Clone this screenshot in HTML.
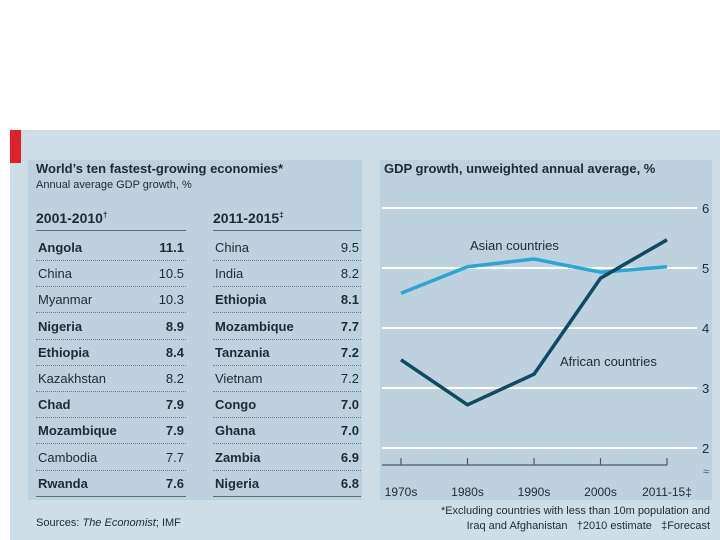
<!DOCTYPE html>
<html><head><meta charset="utf-8"><style>
body{margin:0;width:720px;height:540px;background:#fff;position:relative;overflow:hidden;font-family:"Liberation Sans",sans-serif;color:#1d2b33}
.abs{position:absolute}
.row{position:absolute;height:26px;font-size:13px;line-height:26px;border-bottom:1px dotted #6a7f8a;box-sizing:border-box}
.row .n{position:absolute;left:2px}
.row .v{position:absolute;right:2px}
.b{font-weight:bold}
</style></head><body>
<div class="abs" style="left:10px;top:130px;width:710px;height:410px;background:#cfdee6"></div>
<div class="abs" style="left:10px;top:130px;width:11px;height:33px;background:#e0202a"></div>
<div class="abs" style="left:28px;top:160px;width:334px;height:340px;background:#bdd2de"></div>
<div class="abs" style="left:380px;top:160px;width:332px;height:340px;background:#bdd2de"></div>
<div class="abs b" style="left:36px;top:161px;font-size:13px">World’s ten fastest-growing economies*</div>
<div class="abs" style="left:36px;top:179px;font-size:11px">Annual average GDP growth, %</div>
<div class="abs b" style="left:36px;top:210px;width:150px;font-size:14px;border-bottom:1px solid #5a6e78;padding-bottom:4px">2001-2010<sup style="font-size:8px">†</sup></div>
<div class="abs b" style="left:213px;top:210px;width:148px;font-size:14px;border-bottom:1px solid #5a6e78;padding-bottom:4px">2011-2015<sup style="font-size:8px">‡</sup></div>
<div id="tbl"></div>
<div class="abs" style="left:36px;top:517px;font-size:11px">Sources: <i>The Economist</i>; IMF</div>
<div class="abs b" style="left:384px;top:161px;font-size:13px">GDP growth, unweighted annual average, %</div>
<svg class="abs" style="left:0;top:0" width="720" height="540" id="chart"></svg>
<div class="abs" style="right:10px;top:504px;font-size:11px;text-align:right;line-height:15px">*Excluding countries with less than 10m population and<br>Iraq and Afghanistan &nbsp; †2010 estimate &nbsp; ‡Forecast</div>
<script>
const leftNames=["Angola","China","Myanmar","Nigeria","Ethiopia","Kazakhstan","Chad","Mozambique","Cambodia","Rwanda"];
const leftVals=["11.1","10.5","10.3","8.9","8.4","8.2","7.9","7.9","7.7","7.6"];
const leftBold=[1,0,0,1,1,0,1,1,0,1];
const rightNames=["China","India","Ethiopia","Mozambique","Tanzania","Vietnam","Congo","Ghana","Zambia","Nigeria"];
const rightVals=["9.5","8.2","8.1","7.7","7.2","7.2","7.0","7.0","6.9","6.8"];
const rightBold=[0,0,1,1,1,0,1,1,1,1];
const categories=["1970s","1980s","1990s","2000s","2011-15‡"];
const asian=[4.58,5.02,5.15,4.93,5.02];
const african=[3.47,2.72,3.23,4.83,5.47];
const yTicks=[2,3,4,5,6];

const tbl=document.getElementById('tbl');
function col(names,vals,bold,x,w,side){
  names.forEach((n,i)=>{
    const r=document.createElement('div');
    r.className='row'+(bold[i]?' b':'');
    
    
    r.style.left=x+'px';r.style.width=w+'px';r.style.top=(235+i*26.2)+'px';
    if(i===names.length-1)r.style.borderBottom='1px solid #5a6e78';
    r.innerHTML='<span class="n">'+n+'</span><span class="v">'+vals[i]+'</span>';
    tbl.appendChild(r);
  });
}
col(leftNames,leftVals,leftBold,36,150,'left');
col(rightNames,rightVals,rightBold,213,148,'right');

const svg=document.getElementById('chart');const NS='http://www.w3.org/2000/svg';
const xs=i=>401+i*66.5;
const ys=v=>448-(v-2)*60;
function el(t,a){const e=document.createElementNS(NS,t);for(const k in a)e.setAttribute(k,a[k]);svg.appendChild(e);return e;}
yTicks.forEach(v=>{
  const g=el('line',{x1:382,x2:697,y1:ys(v),y2:ys(v),stroke:'#fff','stroke-width':2});
  
  
  const t=el('text',{x:702,y:ys(v)+5,'font-size':13,fill:'#1d2b33','font-family':'Liberation Sans'});t.textContent=v;
  
  
});
const ax=el('line',{x1:382,x2:667,y1:465,y2:465,stroke:'#4a5a63','stroke-width':1.2});


categories.forEach((c,i)=>{
  el('line',{x1:xs(i),x2:xs(i),y1:458,y2:465,stroke:'#4a5a63','stroke-width':1.2});
  const t=el('text',{x:xs(i),y:496,'font-size':12,fill:'#1d2b33','text-anchor':'middle','font-family':'Liberation Sans'});t.textContent=c;
  
  
});
const br=el('text',{x:703,y:475,'font-size':11,fill:'#4a5a63'});br.textContent='≈';


function line(d,color,name){
  const p=el('polyline',{points:d.map((v,i)=>xs(i)+','+ys(v)).join(' '),fill:'none',stroke:color,'stroke-width':3.5,'stroke-linejoin':'round'});
  
  
}
line(asian,'#2aa5d6','asian-line');
line(african,'#0e4a60','african-line');
const l1=el('text',{x:470,y:250,'font-size':13,fill:'#1d2b33'});l1.textContent='Asian countries';


const l2=el('text',{x:560,y:366,'font-size':13,fill:'#1d2b33'});l2.textContent='African countries';


</script>
</body></html>
